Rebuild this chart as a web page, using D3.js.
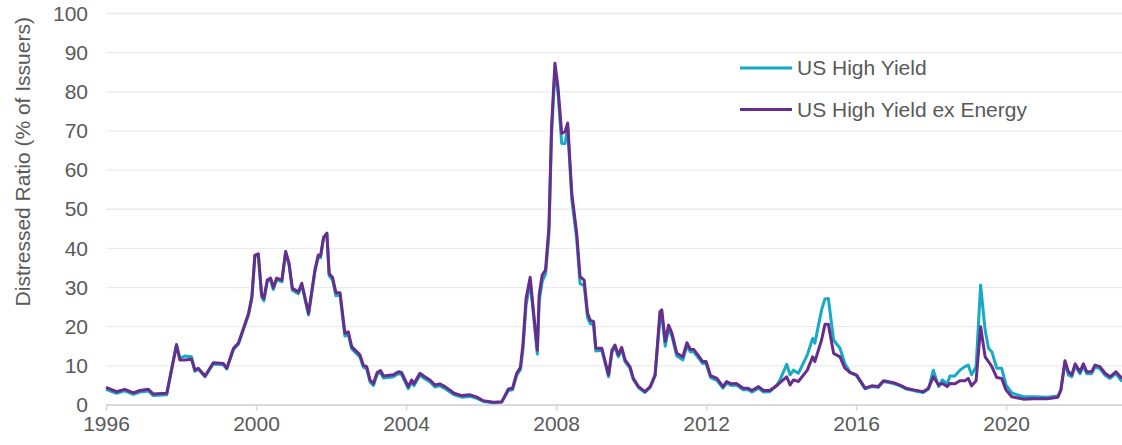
<!DOCTYPE html>
<html>
<head>
<meta charset="utf-8">
<script src="https://cdn.jsdelivr.net/npm/d3@7"></script>
<style>
  body { margin: 0; background: #fff; }
  svg { display: block; font-family: "Liberation Sans", Arial, sans-serif; }
  .grid line { stroke: #ebebeb; stroke-width: 1.3; }
  .tick text { fill: #595959; }
</style>
</head>
<body>
<svg id="chart" width="1122" height="445"></svg>
<script>
// decimal years
const years = [
  1996.00, 1996.28, 1996.50, 1996.73, 1996.90, 1997.13, 1997.26, 1997.62, 1997.88, 1997.97,
  1998.10, 1998.28, 1998.37, 1998.46, 1998.64, 1998.86, 1999.13, 1999.22, 1999.40, 1999.53,
  1999.80, 1999.89, 1999.97, 2000.06, 2000.15, 2000.21, 2000.30, 2000.39, 2000.46, 2000.55,
  2000.69, 2000.79, 2000.88, 2000.97, 2001.13, 2001.22, 2001.40, 2001.57, 2001.66, 2001.72,
  2001.80, 2001.89, 2001.95, 2002.04, 2002.13, 2002.24, 2002.37, 2002.46, 2002.55, 2002.77,
  2002.86, 2002.95, 2003.04, 2003.13, 2003.23, 2003.32, 2003.40, 2003.66, 2003.80, 2003.88,
  2004.06, 2004.15, 2004.21, 2004.37, 2004.50, 2004.64, 2004.77, 2004.90, 2005.04, 2005.17,
  2005.28, 2005.49, 2005.71, 2005.89, 2006.06, 2006.33, 2006.55, 2006.73, 2006.84, 2006.95,
  2007.05, 2007.12, 2007.20, 2007.31, 2007.50, 2007.55, 2007.63, 2007.72, 2007.81, 2007.88,
  2007.97, 2008.05, 2008.15, 2008.24, 2008.31, 2008.42, 2008.55, 2008.64, 2008.75, 2008.84,
  2008.91, 2009.00, 2009.06, 2009.22, 2009.40, 2009.49, 2009.57, 2009.66, 2009.75, 2009.84,
  2009.97, 2010.06, 2010.20, 2010.37, 2010.51, 2010.64, 2010.77, 2010.82, 2010.91, 2011.00,
  2011.09, 2011.22, 2011.38, 2011.49, 2011.58, 2011.67, 2011.82, 2011.91, 2012.00, 2012.12,
  2012.29, 2012.45, 2012.55, 2012.67, 2012.81, 2012.99, 2013.12, 2013.22, 2013.40, 2013.53,
  2013.70, 2013.88, 2013.97, 2014.15, 2014.24, 2014.33, 2014.46, 2014.70, 2014.84, 2014.90,
  2015.08, 2015.17, 2015.26, 2015.40, 2015.57, 2015.70, 2015.84, 2016.01, 2016.24, 2016.42,
  2016.59, 2016.73, 2017.00, 2017.17, 2017.33, 2017.57, 2017.79, 2017.93, 2018.06, 2018.20,
  2018.30, 2018.43, 2018.50, 2018.63, 2018.77, 2018.90, 2018.99, 2019.08, 2019.20, 2019.32,
  2019.44, 2019.53, 2019.62, 2019.75, 2019.88, 2020.00, 2020.15, 2020.46, 2020.73, 2021.10,
  2021.38, 2021.46, 2021.57, 2021.66, 2021.75, 2021.84, 2021.97, 2022.06, 2022.15, 2022.28,
  2022.37, 2022.50, 2022.64, 2022.77, 2022.93, 2023.09
];

const usHighYield = [
  4.0, 3.0, 3.6, 2.7, 3.3, 3.6, 2.4, 2.6, 15.5, 12.0,
  12.5, 12.3, 8.6, 9.2, 7.2, 10.5, 10.3, 9.2, 14.2, 15.5,
  23.0, 27.3, 38.0, 38.4, 27.6, 26.6, 31.5, 32.0, 29.5, 32.0,
  31.5, 39.0, 35.8, 29.3, 28.4, 30.7, 23.0, 34.0, 37.8, 37.6,
  42.5, 43.7, 33.0, 32.0, 27.9, 28.1, 17.6, 18.1, 14.4, 12.3,
  9.7, 9.3, 5.9, 5.0, 7.8, 8.3, 6.9, 7.2, 8.0, 7.8,
  4.2, 5.9, 4.9, 7.6, 6.7, 5.9, 4.6, 4.9, 4.2, 3.3,
  2.6, 2.0, 2.2, 1.7, 0.9, 0.6, 0.7, 3.7, 3.9, 7.6,
  9.0, 14.5, 25.5, 31.5, 13.0, 26.5, 31.5, 33.5, 43.5, 69.0,
  85.5, 80.0, 66.8, 66.8, 71.0, 52.5, 42.5, 31.0, 30.5, 22.3,
  20.8, 20.5, 13.8, 14.0, 7.2, 13.5, 14.8, 12.3, 14.2, 11.0,
  9.4, 6.5, 4.4, 3.2, 4.5, 7.4, 22.0, 23.0, 15.0, 19.5,
  17.5, 12.5, 11.5, 15.2, 13.6, 13.6, 11.7, 10.6, 10.6, 7.0,
  6.3, 4.3, 5.6, 5.0, 5.1, 3.9, 3.9, 3.3, 4.3, 3.3,
  3.4, 5.0, 6.4, 10.4, 7.7, 8.9, 8.1, 12.8, 17.0, 15.8,
  24.3, 27.1, 27.2, 16.6, 14.5, 10.6, 8.3, 7.5, 4.1, 4.7,
  4.5, 6.0, 5.5, 4.9, 4.1, 3.6, 3.2, 4.1, 8.9, 4.7,
  6.4, 5.4, 7.4, 7.4, 8.9, 9.8, 10.2, 7.7, 9.8, 30.6,
  19.2, 14.5, 13.6, 9.4, 9.4, 5.1, 3.1, 2.1, 2.1, 2.0,
  2.3, 3.8, 11.0, 7.7, 7.2, 10.0, 8.0, 10.0, 8.0, 8.0,
  9.7, 9.3, 7.6, 6.8, 8.0, 6.0
];

const usHighYieldExEnergy = [
  4.5, 3.4, 4.0, 3.1, 3.7, 4.0, 2.8, 3.0, 15.3, 11.5,
  11.5, 11.7, 8.9, 9.4, 7.4, 10.8, 10.6, 9.4, 14.5, 15.8,
  23.4, 27.7, 38.3, 38.6, 28.1, 27.2, 31.9, 32.4, 30.0, 32.4,
  31.9, 39.2, 36.2, 29.8, 28.9, 31.1, 23.4, 34.5, 38.3, 38.1,
  42.8, 43.9, 33.6, 32.6, 28.7, 28.7, 18.3, 18.7, 14.9, 12.8,
  10.2, 9.8, 6.4, 5.5, 8.3, 8.8, 7.4, 7.7, 8.5, 8.3,
  4.7, 6.4, 5.4, 8.1, 7.2, 6.4, 5.1, 5.4, 4.7, 3.8,
  3.0, 2.4, 2.6, 2.0, 1.1, 0.7, 0.8, 4.1, 4.3, 8.1,
  9.6, 15.8, 27.2, 32.6, 14.0, 28.1, 33.2, 34.5, 45.5, 71.0,
  87.3, 81.3, 69.4, 69.8, 72.0, 54.0, 43.9, 32.8, 31.9, 23.4,
  21.7, 21.3, 14.5, 14.5, 7.7, 14.0, 15.3, 12.8, 14.7, 11.5,
  9.8, 6.8, 4.7, 3.4, 4.7, 7.7, 23.8, 24.3, 16.2, 20.4,
  18.3, 13.2, 12.3, 15.9, 14.2, 14.2, 12.3, 11.1, 11.1, 7.5,
  6.8, 4.7, 6.0, 5.4, 5.5, 4.3, 4.3, 3.7, 4.7, 3.7,
  3.7, 4.9, 5.7, 7.2, 5.1, 6.4, 6.0, 8.9, 12.3, 11.1,
  16.6, 20.6, 20.6, 13.2, 12.3, 9.4, 8.3, 7.7, 4.3, 4.9,
  4.7, 6.2, 5.7, 5.1, 4.3, 3.8, 3.4, 4.3, 7.2, 5.1,
  5.5, 4.7, 5.5, 5.4, 6.2, 6.2, 6.8, 4.9, 6.2, 20.0,
  12.3, 11.1, 9.8, 7.0, 6.8, 3.8, 2.1, 1.5, 1.6, 1.6,
  2.0, 3.8, 11.3, 8.5, 7.7, 10.5, 8.5, 10.5, 8.5, 8.5,
  10.2, 9.8, 8.1, 7.2, 8.5, 6.8
];

const xTicks = [1996, 2000, 2004, 2008, 2012, 2016, 2020];
const yTicks = [0, 10, 20, 30, 40, 50, 60, 70, 80, 90, 100];
const seriesNames = ["US High Yield", "US High Yield ex Energy"];

const colors = ["#17a9c6", "#662d8c"];
const fontSize = 21;

const svg = d3.select("#chart");
const plotLeft = 106, plotRight = 1122, plotTop = 13.5, plotBottom = 405;

const x = d3.scaleLinear().domain([1996, 2023.09]).range([plotLeft, plotRight]);
const y = d3.scaleLinear().domain([0, 100]).range([plotBottom, plotTop]);

// horizontal gridlines (skip 0, the axis line sits there)
svg.append("g")
  .attr("class", "grid")
  .selectAll("line")
  .data(yTicks.filter((d) => d > 0))
  .join("line")
  .attr("x1", plotLeft).attr("x2", plotRight)
  .attr("y1", (d) => y(d)).attr("y2", (d) => y(d));

// y axis: labels only
const yAxis = svg.append("g")
  .attr("transform", `translate(${plotLeft},0)`)
  .call(d3.axisLeft(y).tickValues(yTicks).tickSize(0).tickPadding(18));
yAxis.select(".domain").remove();
yAxis.selectAll("text").attr("font-size", fontSize).attr("font-family", "Liberation Sans, Arial, sans-serif");

// x axis
const xAxis = svg.append("g")
  .attr("transform", `translate(0,${plotBottom})`)
  .call(d3.axisBottom(x).tickValues(xTicks).tickFormat(d3.format("d")).tickSize(6).tickPadding(5));
xAxis.select(".domain").attr("stroke", "#d9d9d9").attr("stroke-width", 2)
  .attr("d", `M${plotLeft},0H${plotRight}`);
xAxis.selectAll(".tick line").attr("stroke", "#d9d9d9").attr("stroke-width", 1.5);
xAxis.selectAll("text").attr("font-size", fontSize).attr("font-family", "Liberation Sans, Arial, sans-serif");

// y axis title
svg.append("text")
  .attr("transform", `translate(30,${(plotTop + 310) / 2}) rotate(-90)`)
  .attr("text-anchor", "middle")
  .attr("fill", "#595959")
  .attr("font-size", fontSize)
  .text("Distressed Ratio (% of Issuers)");

const line = d3.line()
  .x((d) => x(d[0]))
  .y((d) => y(d[1]));

[usHighYield, usHighYieldExEnergy].forEach((vals, i) => {
  svg.append("path")
    .datum(years.map((t, j) => [t, vals[j]]))
    .attr("fill", "none")
    .attr("stroke", colors[i])
    .attr("stroke-width", 3)
    .attr("stroke-linejoin", "round")
    .attr("d", line);
});

// legend
const legend = svg.append("g").selectAll("g")
  .data(seriesNames)
  .join("g")
  .attr("transform", (d, i) => `translate(740,${68 + i * 41.5})`);
legend.append("line")
  .attr("x1", 0).attr("x2", 52)
  .attr("stroke", (d, i) => colors[i])
  .attr("stroke-width", 3);
legend.append("text")
  .attr("x", 57)
  .attr("dy", "0.35em")
  .attr("fill", "#595959")
  .attr("font-size", fontSize)
  .text((d) => d);
</script>
</body>
</html>
